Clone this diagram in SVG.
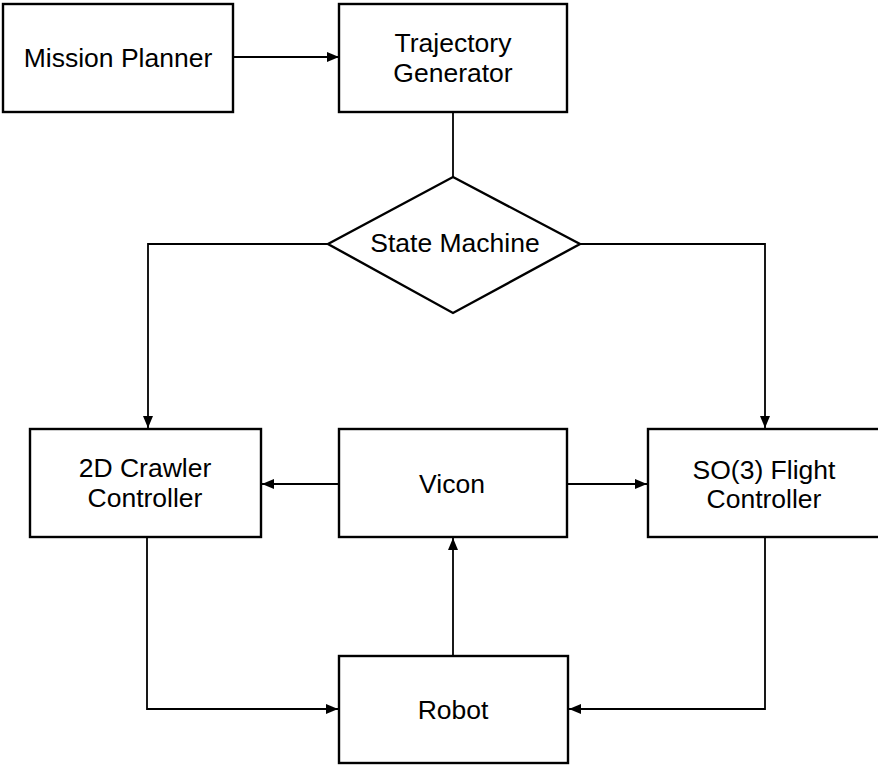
<svg xmlns="http://www.w3.org/2000/svg" width="878" height="766" viewBox="0 0 878 766">
<style>
.box{fill:#fff;stroke:#000;stroke-width:2.4}
.lbl{font-family:"Liberation Sans",Arial,sans-serif;font-size:26.5px;fill:#000;text-anchor:middle}
.ln{fill:none;stroke:#000;stroke-width:1.8}
</style>
<defs>
<marker id="ah" viewBox="0 0 12 10" refX="12" refY="5" markerWidth="12" markerHeight="10" markerUnits="userSpaceOnUse" orient="auto">
<path d="M0,0 L12,5 L0,10 z" fill="#000"/>
</marker>
</defs>
<rect width="878" height="766" fill="#fff"/>
<g id="connectors">
<line class="ln" x1="233" y1="57" x2="339" y2="57" marker-end="url(#ah)"/>
<line class="ln" x1="453" y1="112" x2="453" y2="177"/>
<polyline class="ln" points="328,244 148,244 148,428" marker-end="url(#ah)"/>
<polyline class="ln" points="580,244 765,244 765,428" marker-end="url(#ah)"/>
<line class="ln" x1="338" y1="484" x2="262" y2="484" marker-end="url(#ah)"/>
<line class="ln" x1="568" y1="484" x2="647" y2="484" marker-end="url(#ah)"/>
<line class="ln" x1="453" y1="656" x2="453" y2="538" marker-end="url(#ah)"/>
<polyline class="ln" points="147,538 147,709 338,709" marker-end="url(#ah)"/>
<polyline class="ln" points="765,538 765,709 569,709" marker-end="url(#ah)"/>
</g>
<g id="mission-planner">
<rect class="box" x="3" y="4" width="230" height="108"/>
<text class="lbl" x="118" y="67">Mission Planner</text>
</g>
<g id="trajectory-generator">
<rect class="box" x="339" y="4" width="228" height="108"/>
<text class="lbl" x="453" y="52">Trajectory</text>
<text class="lbl" x="453" y="82">Generator</text>
</g>
<g id="state-machine">
<polygon class="box" points="453,177 580,244 453,313 328,244"/>
<text class="lbl" x="455" y="252">State Machine</text>
</g>
<g id="crawler-controller">
<rect class="box" x="30" y="429" width="231" height="108"/>
<text class="lbl" x="145" y="477">2D Crawler</text>
<text class="lbl" x="145" y="507">Controller</text>
</g>
<g id="vicon">
<rect class="box" x="339" y="429" width="228" height="108"/>
<text class="lbl" x="452" y="493">Vicon</text>
</g>
<g id="flight-controller">
<rect class="box" x="648" y="429" width="232" height="108"/>
<text class="lbl" x="764" y="479">SO(3) Flight</text>
<text class="lbl" x="764" y="508">Controller</text>
</g>
<g id="robot">
<rect class="box" x="339" y="656" width="229" height="107"/>
<text class="lbl" x="453" y="719">Robot</text>
</g>
</svg>
